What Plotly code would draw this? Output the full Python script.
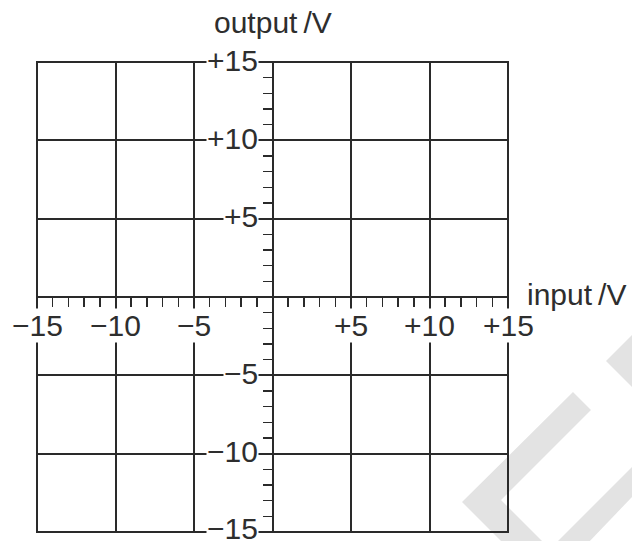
import plotly.graph_objects as go

# ---- data ----
axis_range = [-15, 15]
major_ticks = [-15, -10, -5, 5, 10, 15]
x_tick_labels = ["\u221215", "\u221210", "\u22125", "+5", "+10", "+15"]
y_tick_labels = ["\u221215", "\u221210", "\u22125", "+5", "+10", "+15"]
minor_step = 1
x_title = "input\u2009/V"
y_title = "output\u2009/V"

W, H = 632, 541
ML, MR, MT, MB = 37, 124, 62, 9
PW, PH = W - ML - MR, H - MT - MB

LINE = "#2a2a2a"
TEXT = "#2e2e2e"
FONT = "Liberation Sans, Arial, Helvetica, sans-serif"
FS = 30


def px(xp, yp):
    return (xp - ML) / PW, 1 - (yp - MT) / PH


def poly(points):
    pts = [px(a, b) for a, b in points]
    d = "M " + " L ".join(f"{a:.5f},{b:.5f}" for a, b in pts) + " Z"
    return dict(type="path", path=d, xref="paper", yref="paper",
                fillcolor="#e3e3e3", line=dict(width=0), layer="below")


fig = go.Figure()
# invisible trace to establish the axes
fig.add_trace(go.Scatter(x=axis_range, y=axis_range, mode="markers",
                         marker=dict(opacity=0), hoverinfo="skip", showlegend=False))

axis_common = dict(
    range=axis_range,
    tickvals=major_ticks,
    showticklabels=False,
    ticks="outside",
    ticklen=9,
    tickwidth=1.5,
    tickcolor=LINE,
    minor=dict(dtick=minor_step, ticks="outside", ticklen=9, tickwidth=1.5,
               tickcolor=LINE, showgrid=False),
    showgrid=True,
    gridcolor=LINE,
    gridwidth=2,
    zeroline=False,
    showline=True,
    linecolor=LINE,
    linewidth=2,
    anchor="free",
    position=0.5,
    fixedrange=True,
)
fig.update_xaxes(**axis_common)
fig.update_yaxes(**axis_common)

shapes = [
    # watermark
    poly([(462, 502), (573, 392), (591, 410), (501, 500), (545, 544), (504, 544)]),
    poly([(632, 467), (555, 544), (587, 544), (632, 497)]),
    poly([(606, 361), (634, 333), (634, 389)]),
    # frame
    dict(type="rect", xref="paper", yref="paper", x0=0, x1=1, y0=0, y1=1,
         line=dict(color=LINE, width=2), layer="above"),
]

annotations = []
for v, t in zip(major_ticks, x_tick_labels):
    annotations.append(dict(x=v, xref="x", y=0.5, yref="paper", yshift=-28,
                            text=t, showarrow=False, xanchor="center", yanchor="middle",
                            bgcolor="white", borderpad=0,
                            font=dict(family=FONT, size=FS, color=TEXT)))
for v, t in zip(major_ticks, y_tick_labels):
    annotations.append(dict(y=v, yref="y", yshift=(4 if v == -15 else 2),
                            x=0.5, xref="paper", xshift=-14,
                            text=t, showarrow=False, xanchor="right", yanchor="middle",
                            bgcolor="white", borderpad=0,
                            font=dict(family=FONT, size=FS, color=TEXT)))
annotations.append(dict(x=0.5, xref="paper", y=1, yref="paper", yshift=40,
                        text=y_title, showarrow=False, xanchor="center", yanchor="middle",
                        font=dict(family=FONT, size=FS, color=TEXT)))
annotations.append(dict(x=1, xref="paper", xshift=17, y=0.5, yref="paper", yshift=3,
                        text=x_title, showarrow=False, xanchor="left", yanchor="middle",
                        font=dict(family=FONT, size=FS, color=TEXT)))

fig.update_layout(
    width=W, height=H,
    margin=dict(l=ML, r=MR, t=MT, b=MB, pad=0),
    paper_bgcolor="white",
    plot_bgcolor="rgba(0,0,0,0)",
    shapes=shapes,
    annotations=annotations,
    showlegend=False,
)

fig.write_html("out.html",
               config={"displayModeBar": False, "staticPlot": True},
               post_script="document.body.style.margin='0';document.body.style.overflow='hidden';")
